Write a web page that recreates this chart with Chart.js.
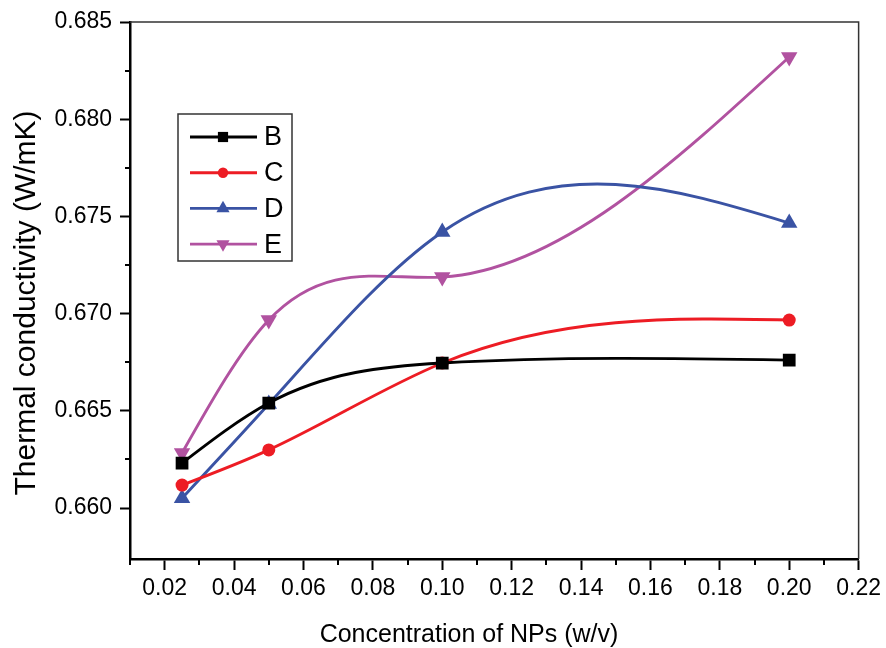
<!DOCTYPE html>
<html>
<head>
<meta charset="utf-8">
<script src="https://cdn.jsdelivr.net/npm/chart.js@4.4.1/dist/chart.umd.min.js"></script>
<style>
  html, body { margin: 0; padding: 0; background: #fff; }
</style>
</head>
<body>
<canvas id="chart" width="886" height="648"></canvas>
<script>
// data
const concentration = [0.025, 0.05, 0.10, 0.20];
const seriesB = [0.66231, 0.66540, 0.66746, 0.66761];
const seriesC = [0.66118, 0.66299, 0.66746, 0.66967];
const seriesD = [0.66051, 0.66535, 0.67420, 0.67466];
const seriesE = [0.66283, 0.66967, 0.67188, 0.68320];
const seriesNames = ['B', 'C', 'D', 'E'];
const xTicks = [0.02, 0.04, 0.06, 0.08, 0.10, 0.12, 0.14, 0.16, 0.18, 0.20, 0.22];
const yTicks = [0.660, 0.665, 0.670, 0.675, 0.680, 0.685];
const xTitle = 'Concentration of NPs (w/v)';
const yTitle = 'Thermal conductivity (W/mK)';

const FONT = "'Liberation Sans', Arial, sans-serif";
const colors = ['#000000', '#ED1C24', '#3A53A4', '#B152A0'];
const styles = [
  { pointStyle: 'rect', radius: 9, rotation: 0 },
  { pointStyle: 'circle', radius: 6.5, rotation: 0 },
  { pointStyle: 'triangle', radius: 9.5, rotation: 0 },
  { pointStyle: 'triangle', radius: 9.5, rotation: 180 }
];
const allSeries = [seriesB, seriesC, seriesD, seriesE];

// natural cubic spline slopes (Origin "spline" connection)
function splineSlopes(xs, ys) {
  const n = xs.length;
  const h = [], s = [];
  for (let i = 0; i < n - 1; i++) {
    h.push(xs[i + 1] - xs[i]);
    s.push((ys[i + 1] - ys[i]) / h[i]);
  }
  const M = new Array(n).fill(0);
  if (n > 2) {
    const a = [], b = [], c = [], d = [];
    for (let i = 1; i < n - 1; i++) {
      a.push(h[i - 1]); b.push(2 * (h[i - 1] + h[i])); c.push(h[i]); d.push(6 * (s[i] - s[i - 1]));
    }
    const m = b.length;
    for (let i = 1; i < m; i++) {
      const w = a[i] / b[i - 1];
      b[i] -= w * c[i - 1];
      d[i] -= w * d[i - 1];
    }
    const sol = new Array(m);
    sol[m - 1] = d[m - 1] / b[m - 1];
    for (let i = m - 2; i >= 0; i--) sol[i] = (d[i] - c[i] * sol[i + 1]) / b[i];
    for (let i = 0; i < m; i++) M[i + 1] = sol[i];
  }
  const slopes = [];
  for (let i = 0; i < n - 1; i++) slopes.push(s[i] - h[i] * (2 * M[i] + M[i + 1]) / 6);
  slopes.push(s[n - 2] + h[n - 2] * (M[n - 2] + 2 * M[n - 1]) / 6);
  return slopes;
}

const splineLines = {
  id: 'splineLines',
  beforeDatasetDraw(chart, args) {
    const pts = args.meta.data;
    if (pts.length < 2) return;
    const ds = chart.data.datasets[args.index];
    const xs = pts.map(p => p.x), ys = pts.map(p => p.y);
    const m = splineSlopes(xs, ys);
    const ctx = chart.ctx;
    ctx.save();
    ctx.strokeStyle = ds.borderColor;
    ctx.lineWidth = 2.9;
    ctx.lineJoin = 'round';
    ctx.beginPath();
    ctx.moveTo(xs[0], ys[0]);
    for (let i = 0; i < xs.length - 1; i++) {
      const h = (xs[i + 1] - xs[i]) / 3;
      ctx.bezierCurveTo(xs[i] + h, ys[i] + m[i] * h, xs[i + 1] - h, ys[i + 1] - m[i + 1] * h, xs[i + 1], ys[i + 1]);
    }
    ctx.stroke();
    ctx.restore();
  }
};

const decorations = {
  id: 'decorations',
  afterDraw(chart) {
    const ctx = chart.ctx;
    const ca = chart.chartArea;
    const xs = chart.scales.x, ys = chart.scales.y;
    ctx.save();
    // top / right frame
    ctx.strokeStyle = '#333';
    ctx.lineWidth = 1.5;
    ctx.beginPath();
    ctx.moveTo(ca.left, ca.top); ctx.lineTo(ca.right, ca.top); ctx.lineTo(ca.right, ca.bottom);
    ctx.stroke();
    // minor ticks
    ctx.strokeStyle = '#000';
    ctx.lineWidth = 2;
    ctx.beginPath();
    const xMinor = [xs.min].concat(xTicks.slice(0, -1).map((v, i) => (v + xTicks[i + 1]) / 2));
    xMinor.forEach(v => {
      const px = Math.round(xs.getPixelForValue(v));
      ctx.moveTo(px, ca.bottom); ctx.lineTo(px, ca.bottom + 6);
    });
    const yMinor = yTicks.slice(0, -1).map((v, i) => (v + yTicks[i + 1]) / 2);
    yMinor.forEach(v => {
      const py = Math.round(ys.getPixelForValue(v));
      ctx.moveTo(ca.left, py); ctx.lineTo(ca.left - 5, py);
    });
    ctx.stroke();

    // axis titles
    ctx.fillStyle = '#000';
    ctx.textAlign = 'center';
    ctx.textBaseline = 'alphabetic';
    ctx.font = '25px ' + FONT;
    ctx.fillText(xTitle, 469, 642);
    ctx.translate(35, 303);
    ctx.rotate(-Math.PI / 2);
    ctx.font = '30px ' + FONT;
    ctx.fillText(yTitle, 0, 0);
    ctx.restore();

    // legend
    ctx.save();
    const bx = ca.left + 48, by = ca.top + 92, bw = 114, bh = 147;
    ctx.strokeStyle = '#333';
    ctx.lineWidth = 1.5;
    ctx.strokeRect(bx, by, bw, bh);
    seriesNames.forEach((name, i) => {
      const ly = by + 23 + i * 35.7;
      ctx.strokeStyle = colors[i];
      ctx.lineWidth = 2.9;
      ctx.beginPath();
      ctx.moveTo(bx + 12, ly); ctx.lineTo(bx + 79, ly);
      ctx.stroke();
      ctx.fillStyle = colors[i];
      Chart.helpers.drawPoint(ctx, {
        pointStyle: styles[i].pointStyle,
        radius: styles[i].radius * 0.8,
        rotation: styles[i].rotation,
        borderWidth: 0
      }, bx + 45, ly);
      ctx.fillStyle = '#000';
      ctx.font = '27px ' + FONT;
      ctx.textAlign = 'left';
      ctx.textBaseline = 'middle';
      ctx.fillText(name, bx + 86, ly + 1);
    });
    ctx.restore();
  }
};

const datasets = allSeries.map((vals, i) => ({
  label: seriesNames[i],
  data: concentration.map((x, j) => ({ x: x, y: vals[j] })),
  showLine: false,
  borderColor: colors[i],
  backgroundColor: colors[i],
  pointBackgroundColor: colors[i],
  pointBorderColor: colors[i],
  pointBorderWidth: 0,
  pointStyle: styles[i].pointStyle,
  pointRadius: styles[i].radius,
  pointRotation: styles[i].rotation,
  pointHoverRadius: styles[i].radius
}));

new Chart(document.getElementById('chart'), {
  type: 'scatter',
  data: { datasets: datasets },
  options: {
    responsive: false,
    animation: false,
    devicePixelRatio: 1,
    layout: { padding: { top: 22, right: 26, left: 0, bottom: 0 } },
    plugins: { legend: { display: false }, tooltip: { enabled: false } },
    scales: {
      x: {
        type: 'linear',
        min: 0.01,
        max: 0.22,
        afterBuildTicks: s => { s.ticks = xTicks.map(v => ({ value: v })); },
        afterFit: s => { s.height = 89; },
        border: { color: '#000', width: 2.5 },
        grid: { drawOnChartArea: false, tickLength: 11, tickWidth: 2, tickColor: '#000' },
        ticks: {
          color: '#000', font: { family: FONT, size: 23 }, padding: 5,
          maxRotation: 0, autoSkip: false,
          callback: v => v.toFixed(2)
        }
      },
      y: {
        type: 'linear',
        min: 0.65738,
        max: 0.685,
        afterBuildTicks: s => { s.ticks = yTicks.map(v => ({ value: v })); },
        afterFit: s => { s.width = 130; },
        border: { color: '#000', width: 2.5 },
        grid: { drawOnChartArea: false, tickLength: 10, tickWidth: 2, tickColor: '#000' },
        ticks: {
          color: '#000', font: { family: FONT, size: 23 }, padding: 8,
          callback: v => v.toFixed(3)
        }
      }
    }
  },
  plugins: [splineLines, decorations]
});
</script>
</body>
</html>
